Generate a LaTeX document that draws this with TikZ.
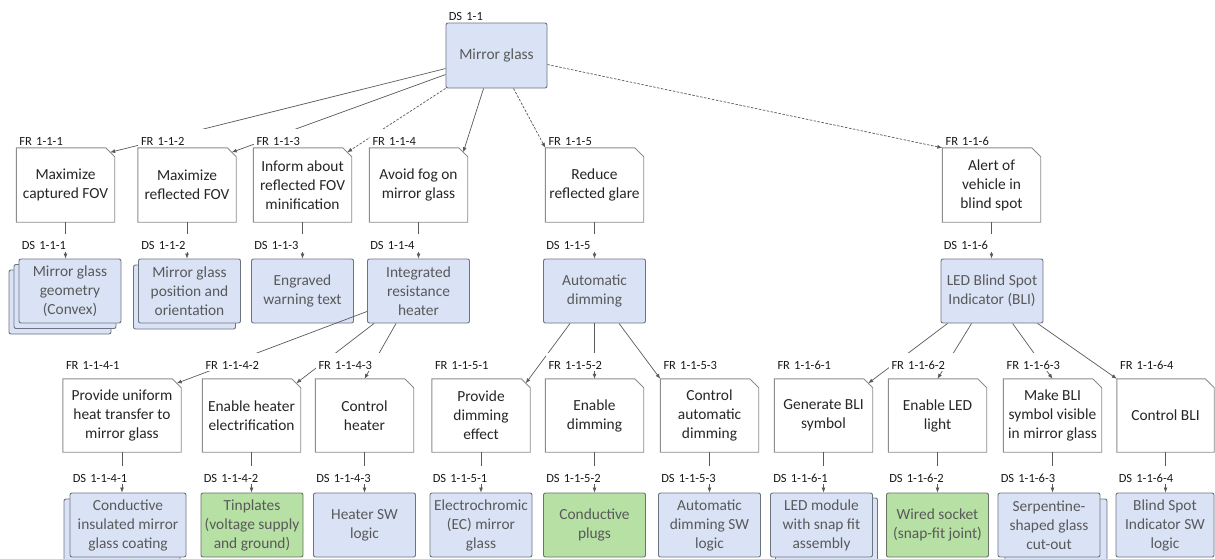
\documentclass[tikz,border=0pt]{standalone}
\usepackage{fontspec}
\setmainfont{Carlito}
\usetikzlibrary{arrows.meta,calc}

\definecolor{frline}{RGB}{140,140,140}
\definecolor{dsline}{RGB}{108,116,128}
\definecolor{gnline}{RGB}{104,116,100}
\definecolor{dsblue}{RGB}{218,227,246}
\definecolor{dsgreen}{RGB}{182,224,164}
\definecolor{connc}{RGB}{90,90,90}
\definecolor{frtext}{RGB}{38,38,38}
\definecolor{dstext}{RGB}{89,89,89}
\definecolor{lbltext}{RGB}{25,25,25}

\tikzset{
  boxfont/.style={font=\fontsize{15.4}{19}\selectfont},
  frbox/.style={boxfont, align=center, inner sep=0pt, minimum width=98pt,
    minimum height=74pt, text=frtext},
  frrow/.style={frbox, minimum height=73pt},
  dsbox/.style={boxfont, align=center, inner sep=0pt, draw=dsline, fill=dsblue,
    line width=0.9pt, rounded corners=2pt, minimum width=102pt,
    minimum height=64pt, text=dstext},
  gnbox/.style={dsbox, fill=dsgreen, draw=gnline},
  lbl/.style={font=\fontsize{12.5}{15}\selectfont, text=lbltext, fill=white,
    inner xsep=3pt, inner ysep=0pt, text height=16pt, text depth=2pt,
    text width=62pt, align=left, anchor=base west},
  conn/.style={draw=connc, line width=0.7pt, -{Latex[length=5pt,width=4pt]}},
  dconn/.style={conn, dash pattern=on 2.5pt off 1.5pt},
  snipline/.style={draw=frline, line width=0.9pt, line join=miter},
}

\begin{document}
\begin{tikzpicture}[x=1pt,y=-1pt]
\fill[white] (0,0) rectangle (1215,558);
\useasboundingbox (0,0) rectangle (1215,558);

% ---------- root design solution ----------
\node[dsbox, minimum width=101pt, minimum height=65pt] (mg) at (496.5,55.5) {Mirror glass};

% ---------- first level functional requirements ----------
\node[frbox] (fr1) at (65.5,185)  {Maximize\\captured FOV};
\node[frbox] (fr2) at (187,185)   {Maximize\\reflected FOV};
\node[frbox] (fr3) at (302.5,185) {Inform about\\reflected FOV\\minification};
\node[frbox] (fr4) at (418.5,185) {Avoid fog on\\mirror glass};
\node[frbox] (fr5) at (594.5,185) {Reduce\\reflected glare};
\node[frbox] (fr6) at (991.5,185) {Alert of\\vehicle in\\blind spot};

% ---------- first level design solutions ----------
\node[dsbox] (ds1c) at (60,302) {};
\node[dsbox] (ds1b) at (65,296.5) {};
\node[dsbox] (ds1) at (70,291) {Mirror glass\\geometry\\(Convex)};
\node[dsbox] (ds2b) at (184.5,297) {};
\node[dsbox] (ds2) at (189.5,291) {Mirror glass\\position and\\orientation};
\node[dsbox] (ds3) at (302.5,291) {Engraved\\warning text};
\node[dsbox] (ds4) at (418.5,291) {Integrated\\resistance\\heater};
\node[dsbox] (ds5) at (594.5,291) {Automatic\\dimming};
\node[dsbox] (ds6) at (992,291) {LED Blind Spot\\Indicator (BLI)};

% ---------- second level functional requirements ----------
\node[frrow, minimum width=118pt] (fr41) at (122,415.5) {Provide uniform\\heat transfer to\\mirror glass};
\node[frrow] (fr42) at (251.5,415.5)  {Enable heater\\electrification};
\node[frrow] (fr43) at (364.5,415.5)  {Control\\heater};
\node[frrow] (fr51) at (481,415.5)    {Provide\\dimming\\effect};
\node[frrow] (fr52) at (594.5,415.5)  {Enable\\dimming};
\node[frrow] (fr53) at (709.5,415.5)  {Control\\automatic\\dimming};
\node[frrow] (fr61) at (823.5,415.5)  {Generate BLI\\symbol};
\node[frrow] (fr62) at (937.5,415.5)  {Enable LED\\light};
\node[frrow] (fr63) at (1052.5,415.5) {Make BLI\\symbol visible\\in mirror glass};
\node[frrow, minimum width=97pt] (fr64) at (1165.5,415.5) {Control BLI};

% ---------- second level design solutions ----------
\node[dsbox, minimum width=116pt] (ds41b) at (122,531) {};
\node[dsbox, minimum width=116pt] (ds41) at (128,525) {Conductive\\insulated mirror\\glass coating};
\node[gnbox] (ds42) at (252,525)   {Tinplates\\(voltage supply\\and ground)};
\node[dsbox] (ds43) at (364.5,525) {Heater SW\\logic};
\node[dsbox] (ds51) at (481,525)   {Electrochromic\\(EC) mirror\\glass};
\node[gnbox] (ds52) at (594.5,525) {Conductive\\plugs};
\node[dsbox] (ds53) at (709.5,525) {Automatic\\dimming SW\\logic};
\node[dsbox] (ds61b) at (826.5,530) {};
\node[dsbox] (ds61) at (821.5,525) {LED module\\with snap fit\\assembly};
\node[gnbox] (ds62) at (937.5,525) {Wired socket\\(snap-fit joint)};
\node[dsbox] (ds63b) at (1056,531) {};
\node[dsbox] (ds63) at (1049,525)  {Serpentine-\\shaped glass\\cut-out};
\node[dsbox, minimum width=98pt] (ds64) at (1165,525) {Blind Spot\\Indicator SW\\logic};

% ---------- requirement outlines with snipped corner ----------
\foreach \nm in {fr1,fr2,fr3,fr4,fr5,fr6,fr41,fr42,fr43,fr51,fr52,fr53,fr61,fr62,fr63,fr64}{
  \draw[snipline] (\nm.south west) -- (\nm.north west) -- ($(\nm.north east)+(-9,0)$)
    -- ($(\nm.north east)+(0,9)$) -- (\nm.south east) -- cycle;
  \coordinate (\nm s) at ($(\nm.north east)+(-4.5,4.5)$);
}

% ---------- decomposition connectors ----------
\draw[conn]  ($(mg.north west)+(0,46)$) -- (fr1s);
\draw[conn]  ($(mg.north west)+(0,52)$) -- (fr2s);
\draw[dconn] (mg.south west) -- (fr3s);
\draw[conn]  ($(mg.south west)+(38,0)$) -- (fr4s);
\draw[dconn] ($(mg.south west)+(68,0)$) -- (fr5.north west);
\draw[dconn] ($(mg.north east)+(0,42)$) -- (fr6.north west);

\draw[conn] ($(ds4.south west)+(0,-12)$) -- (fr41s);
\draw[conn] ($(ds4.south west)+(7,0)$)   -- (fr42s);
\draw[conn] ($(ds4.south west)+(29,0)$)  -- (fr43.north);

\draw[conn] ($(ds5.south west)+(27,0)$)  -- (fr51s);
\draw[conn] (ds5.south) -- (fr52.north);
\draw[conn] ($(ds5.south west)+(76,0)$)  -- (fr53.north west);

\draw[conn] ($(ds6.south west)+(7,0)$)   -- (fr61s);
\draw[conn] ($(ds6.south west)+(31,0)$)  -- (fr62.north);
\draw[conn] ($(ds6.south west)+(72,0)$)  -- (fr63.north);
\draw[conn] ($(ds6.south west)+(97,0)$)  -- (fr64.north west);

% ---------- requirement to solution mapping ----------
\foreach \f/\d in {fr1/ds1,fr2/ds2,fr3/ds3,fr4/ds4,fr5/ds5,fr6/ds6,
  fr41/ds41,fr42/ds42,fr43/ds43,fr51/ds51,fr52/ds52,fr53/ds53,
  fr61/ds61,fr62/ds62,fr63/ds63,fr64/ds64}{
  \draw[conn] (\f.south) -- (\f.south |- \d.north);
}

% ---------- identifiers ----------
\node[lbl] at ($(mg.north west)+(0,-2.5)$) {DS 1-1};
\foreach \nm/\t in {fr1/FR 1-1-1,fr2/FR 1-1-2,fr3/FR 1-1-3,fr4/FR 1-1-4,fr5/FR 1-1-5,fr6/FR 1-1-6}{
  \node[lbl] at ($(\nm.north west)+(0,-2.5)$) {\t};
}
\foreach \nm/\t in {ds1/DS 1-1-1,ds2/DS 1-1-2,ds3/DS 1-1-3,ds4/DS 1-1-4,ds5/DS 1-1-5,ds6/DS 1-1-6}{
  \node[lbl] at ($(\nm.north west)+(0,-9)$) {\t};
}
\foreach \nm/\t in {fr41/FR 1-1-4-1,fr42/FR 1-1-4-2,fr43/FR 1-1-4-3,fr51/FR 1-1-5-1,
  fr52/FR 1-1-5-2,fr53/FR 1-1-5-3,fr61/FR 1-1-6-1,fr62/FR 1-1-6-2,fr63/FR 1-1-6-3,fr64/FR 1-1-6-4}{
  \node[lbl] at ($(\nm.north west)+(0,-9.5)$) {\t};
}
\foreach \nm/\t in {ds41/DS 1-1-4-1,ds42/DS 1-1-4-2,ds43/DS 1-1-4-3,ds51/DS 1-1-5-1,
  ds52/DS 1-1-5-2,ds53/DS 1-1-5-3,ds61/DS 1-1-6-1,ds62/DS 1-1-6-2,ds63/DS 1-1-6-3,ds64/DS 1-1-6-4}{
  \node[lbl] at ($(\nm.north west)+(0,-10.5)$) {\t};
}
\end{tikzpicture}
\end{document}
